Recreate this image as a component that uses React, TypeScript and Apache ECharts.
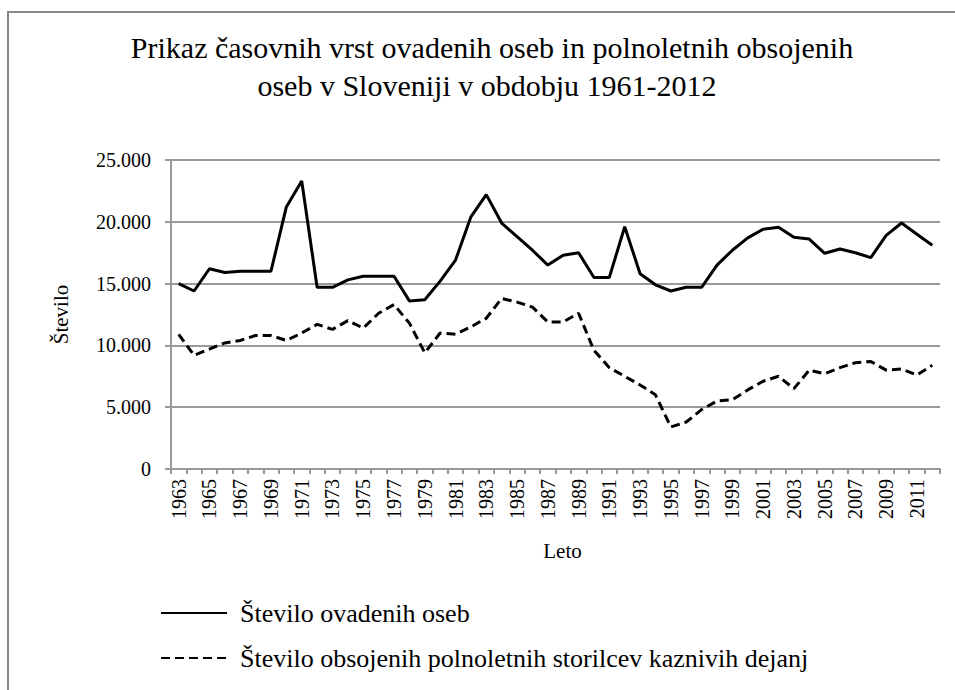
import React, { useEffect, useRef } from "react";
import * as echarts from "echarts";

const years: string[] = [];
for (let y = 1963; y <= 2012; y++) years.push(String(y));

const reported = [
  15000, 14400, 16200, 15900, 16000, 16000, 16000, 21200, 23300, 14700,
  14700, 15300, 15600, 15600, 15600, 13600, 13700, 15200, 16900, 20400,
  22200, 19900, 18800, 17700, 16500, 17300, 17500, 15500, 15500, 19600,
  15800, 14900, 14400, 14700, 14700, 16500, 17700, 18700, 19400, 19550,
  18750, 18600, 17450, 17800, 17500, 17100, 18900, 19900, 19000, 18100,
];

const convicted = [
  10900, 9200, 9700, 10200, 10400, 10800, 10800, 10400, 11000, 11700,
  11300, 12000, 11400, 12600, 13300, 11800, 9400, 11000, 10900, 11500,
  12200, 13800, 13500, 13100, 11900, 11900, 12600, 9600, 8200, 7500,
  6800, 6000, 3400, 3800, 4800, 5500, 5600, 6400, 7100, 7500,
  6500, 8000, 7700, 8200, 8600, 8700, 8000, 8100, 7600, 8400,
];

const seriesNames = [
  "Število ovadenih oseb",
  "Število obsojenih polnoletnih storilcev kaznivih dejanj",
];

const titleLines = [
  "Prikaz časovnih vrst ovadenih oseb in polnoletnih obsojenih",
  "oseb v Sloveniji v obdobju 1961-2012",
];

const FONT = "Liberation Serif";

export default function App() {
  const ref = useRef<HTMLDivElement>(null);
  useEffect(() => {
    if (!ref.current) return;
    const chart = echarts.init(ref.current, undefined, { renderer: "svg" });
    chart.setOption({
      animation: false,
      graphic: [
        {
          type: "rect",
          shape: { x: 8, y: 12, width: 1000, height: 720 },
          style: { fill: "none", stroke: "#888", lineWidth: 2 },
          silent: true,
        },
        {
          type: "text",
          x: 492,
          y: 47,
          style: {
            text: titleLines[0],
            fontFamily: FONT,
            fontSize: 30,
            fill: "#000",
            align: "center",
            verticalAlign: "middle",
          },
        },
        {
          type: "text",
          x: 487,
          y: 85,
          style: {
            text: titleLines[1],
            fontFamily: FONT,
            fontSize: 30,
            fill: "#000",
            align: "center",
            verticalAlign: "middle",
          },
        },
      ],
      legend: {
        orient: "vertical",
        left: 155,
        top: 595,
        itemWidth: 66,
        itemHeight: 28,
        itemGap: 19,
        itemStyle: { opacity: 0 },
        textStyle: { fontFamily: FONT, fontSize: 26, color: "#000", padding: [0, 0, 0, 8] },
        data: seriesNames,
      },
      grid: { left: 171, right: 15, top: 160, bottom: 221, containLabel: false },
      xAxis: {
        type: "category",
        data: years,
        boundaryGap: true,
        name: "Leto",
        nameLocation: "middle",
        nameGap: 71,
        nameTextStyle: { fontFamily: FONT, fontSize: 21, color: "#000", padding: [0, 0, 0, 14] },
        axisLine: { lineStyle: { color: "#999", width: 2 } },
        axisTick: { show: true, length: 5, interval: 0, lineStyle: { color: "#999", width: 2 } },
        axisLabel: {
          interval: 1,
          rotate: 90,
          margin: 10,
          fontFamily: FONT,
          fontSize: 20,
          color: "#000",
        },
      },
      yAxis: {
        type: "value",
        min: 0,
        max: 25000,
        interval: 5000,
        name: "Število",
        nameLocation: "middle",
        nameGap: 100,
        nameRotate: 90,
        nameTextStyle: { fontFamily: FONT, fontSize: 21, color: "#000" },
        axisLine: { show: true, lineStyle: { color: "#999", width: 2 } },
        axisTick: { show: true, length: 6, lineStyle: { color: "#999", width: 2 } },
        splitLine: { lineStyle: { color: "#999", width: 2 } },
        axisLabel: {
          margin: 20,
          fontFamily: FONT,
          fontSize: 20,
          color: "#000",
          formatter: (v: number) => (v === 0 ? "0" : v.toLocaleString("de-DE")),
        },
      },
      series: [
        {
          name: seriesNames[0],
          type: "line",
          data: reported,
          symbol: "none",
          lineStyle: { color: "#000", width: 3 },
          itemStyle: { color: "#000" },
        },
        {
          name: seriesNames[1],
          type: "line",
          data: convicted,
          symbol: "none",
          lineStyle: { color: "#000", width: 3, type: [9, 5] },
          itemStyle: { color: "#000" },
        },
      ],
    });
    return () => chart.dispose();
  }, []);
  return (
    <div
      ref={ref}
      style={{ position: "fixed", left: 0, top: 0, width: 955, height: 690, background: "#fff" }}
    />
  );
}
